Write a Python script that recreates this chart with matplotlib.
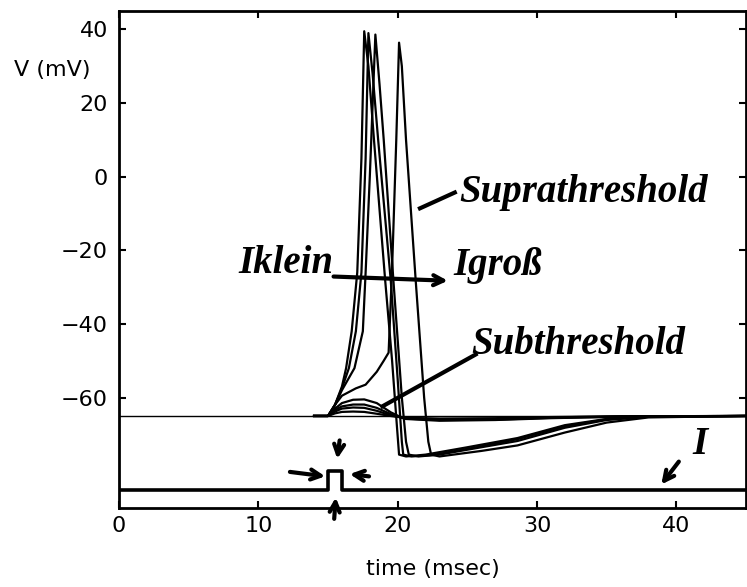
import matplotlib
matplotlib.use('Agg')
import matplotlib.pyplot as plt

# membrane potential traces, (time msec, V mV)
rest_t = [0, 45]
rest_v = [-65, -65]

spike1_t = [14, 15, 15.5, 16.0, 16.3, 16.7, 17.1, 17.4, 17.6, 17.9, 18.3, 19.1, 19.6, 19.95, 20.1, 20.6,
            22, 25, 28.6, 32, 35, 38, 45]
spike1_v = [-65, -65, -62, -57, -52, -42, -26, 5, 39.5, 30, 10, -28, -50, -68, -75.5, -76,
            -75.5, -73.5, -71, -67.5, -65.8, -65.1, -65]

spike2_t = [14, 15, 15.5, 16.0, 16.5, 17.0, 17.4, 17.7, 17.9, 18.2, 18.6, 19.5, 20.0, 20.3, 20.4, 21,
            22.5, 25.5, 28.6, 32, 35, 38, 45]
spike2_v = [-65, -65, -62, -57.5, -52, -42, -26, 5, 39, 28, 10, -28, -55, -72, -75.5, -76,
            -75.6, -73.6, -71.3, -67.8, -65.9, -65.1, -65]

spike3_t = [14, 15, 15.5, 16.0, 16.9, 17.5, 17.7, 18.0, 18.4, 18.7, 19.0, 19.7, 20.3, 20.6, 20.8, 21.5,
            23, 26, 28.6, 32, 35, 38, 45]
spike3_v = [-65, -65, -62, -58, -52, -42, -26, 0, 38.6, 25, 10, -28.5, -60, -72, -75.5, -76,
            -75.5, -73.5, -71.8, -68.2, -66.1, -65.2, -65]

spike4_t = [14, 15, 15.5, 16.0, 17.0, 17.7, 18.5, 19.0, 19.35, 19.6, 19.9, 20.1, 20.3, 20.6, 21.3, 21.9,
            22.2, 22.4, 23, 26, 28.6, 32, 35, 38, 45]
spike4_v = [-65, -65, -62, -59.5, -57.5, -56.5, -53, -50, -47.8, -25, 10, 36.4, 30, 10, -28.5, -60,
            -72, -75.5, -76, -74.5, -73, -69.5, -66.8, -65.4, -65]

sub_t = [14, 15, 15.5, 16.0, 16.8, 17.6, 18.5, 19.5, 20.5, 23, 27, 31, 36, 45]
sub1_v = [-65, -65, -63, -61.5, -60.6, -60.5, -61.5, -64, -65.8, -66.3, -66.1, -65.6, -65.2, -65]
sub2_v = [-65, -65, -63.4, -62.4, -61.9, -61.9, -62.8, -64.5, -65.7, -66.1, -66.0, -65.5, -65.2, -65]
sub3_v = [-65, -65, -63.8, -63.0, -62.7, -62.8, -63.6, -64.8, -65.6, -65.9, -65.8, -65.4, -65.1, -65]
sub4_v = [-65, -65, -64.3, -63.9, -63.8, -63.9, -64.4, -65.0, -65.5, -65.7, -65.6, -65.3, -65.1, -65]

# stimulus current, drawn on the same axes
cur_t = [0, 15, 15, 16, 16, 45]
cur_v = [-85, -85, -80, -80, -85, -85]

xticks = [0, 10, 20, 30, 40]
yticks = [40, 20, 0, -20, -40, -60]

fig = plt.figure(figsize=(7.47, 5.87), dpi=100)
ax = fig.add_axes([119 / 747, 79 / 587, 627 / 747, 497 / 587])

ax.plot(rest_t, rest_v, color='black', lw=1.0)
for t, v in [(spike1_t, spike1_v), (spike2_t, spike2_v), (spike3_t, spike3_v), (spike4_t, spike4_v)]:
    ax.plot(t, v, color='black', lw=1.6)
for v in [sub1_v, sub2_v, sub3_v, sub4_v]:
    ax.plot(sub_t, v, color='black', lw=1.6)
ax.plot(cur_t, cur_v, color='black', lw=2.6)

ax.set_xlim(0, 45)
ax.set_ylim(-90, 45)
ax.set_xticks(xticks)
ax.set_yticks(yticks)
ax.tick_params(direction='in', length=5, width=1.5, labelsize=16, top=True, right=True)
ax.tick_params(axis='y', pad=8)
ax.tick_params(axis='x', pad=6)
for s in ax.spines.values():
    s.set_linewidth(2)

ax.set_xlabel('time (msec)', fontsize=16, labelpad=16)
fig.text(0.07, 0.881, 'V (mV)', fontsize=16, ha='center', va='center')

# handwritten notes
hand = dict(family='Liberation Serif', style='italic', weight='bold', fontsize=28, color='black')
ax.text(24.4, -4.3, 'Suprathreshold', ha='left', va='center', **hand)
ax.plot([21.6, 24.1], [-8.6, -4.3], color='black', lw=3)
ax.text(12.0, -23.5, 'Iklein', ha='center', va='center', **hand)
ax.text(27.2, -24.0, 'Igroß', ha='center', va='center', **hand)
ax.annotate('', xy=(23.8, -28.3), xytext=(15.2, -27.1),
            arrowprops=dict(arrowstyle='->', lw=3, color='black', mutation_scale=18))
ax.text(25.3, -45.6, 'Subthreshold', ha='left', va='center', **hand)
ax.plot([18.9, 25.6], [-62.4, -48.3], color='black', lw=3)
ax.text(41.7, -72.8, 'I', ha='center', va='center', **hand)

arrows = [((38.8, -84.2), (40.3, -76.8)),
          ((15.64, -77.4), (15.86, -70.9)),
          ((15.57, -86.4), (15.43, -93.7)),
          ((15.0, -81.5), (12.07, -80.1)),
          ((16.36, -80.7), (18.14, -81.5))]
for head, tail in arrows:
    ax.annotate('', xy=head, xytext=tail, annotation_clip=False,
                arrowprops=dict(arrowstyle='->', lw=3, color='black', mutation_scale=18))

fig.savefig('out.png', dpi=100)
